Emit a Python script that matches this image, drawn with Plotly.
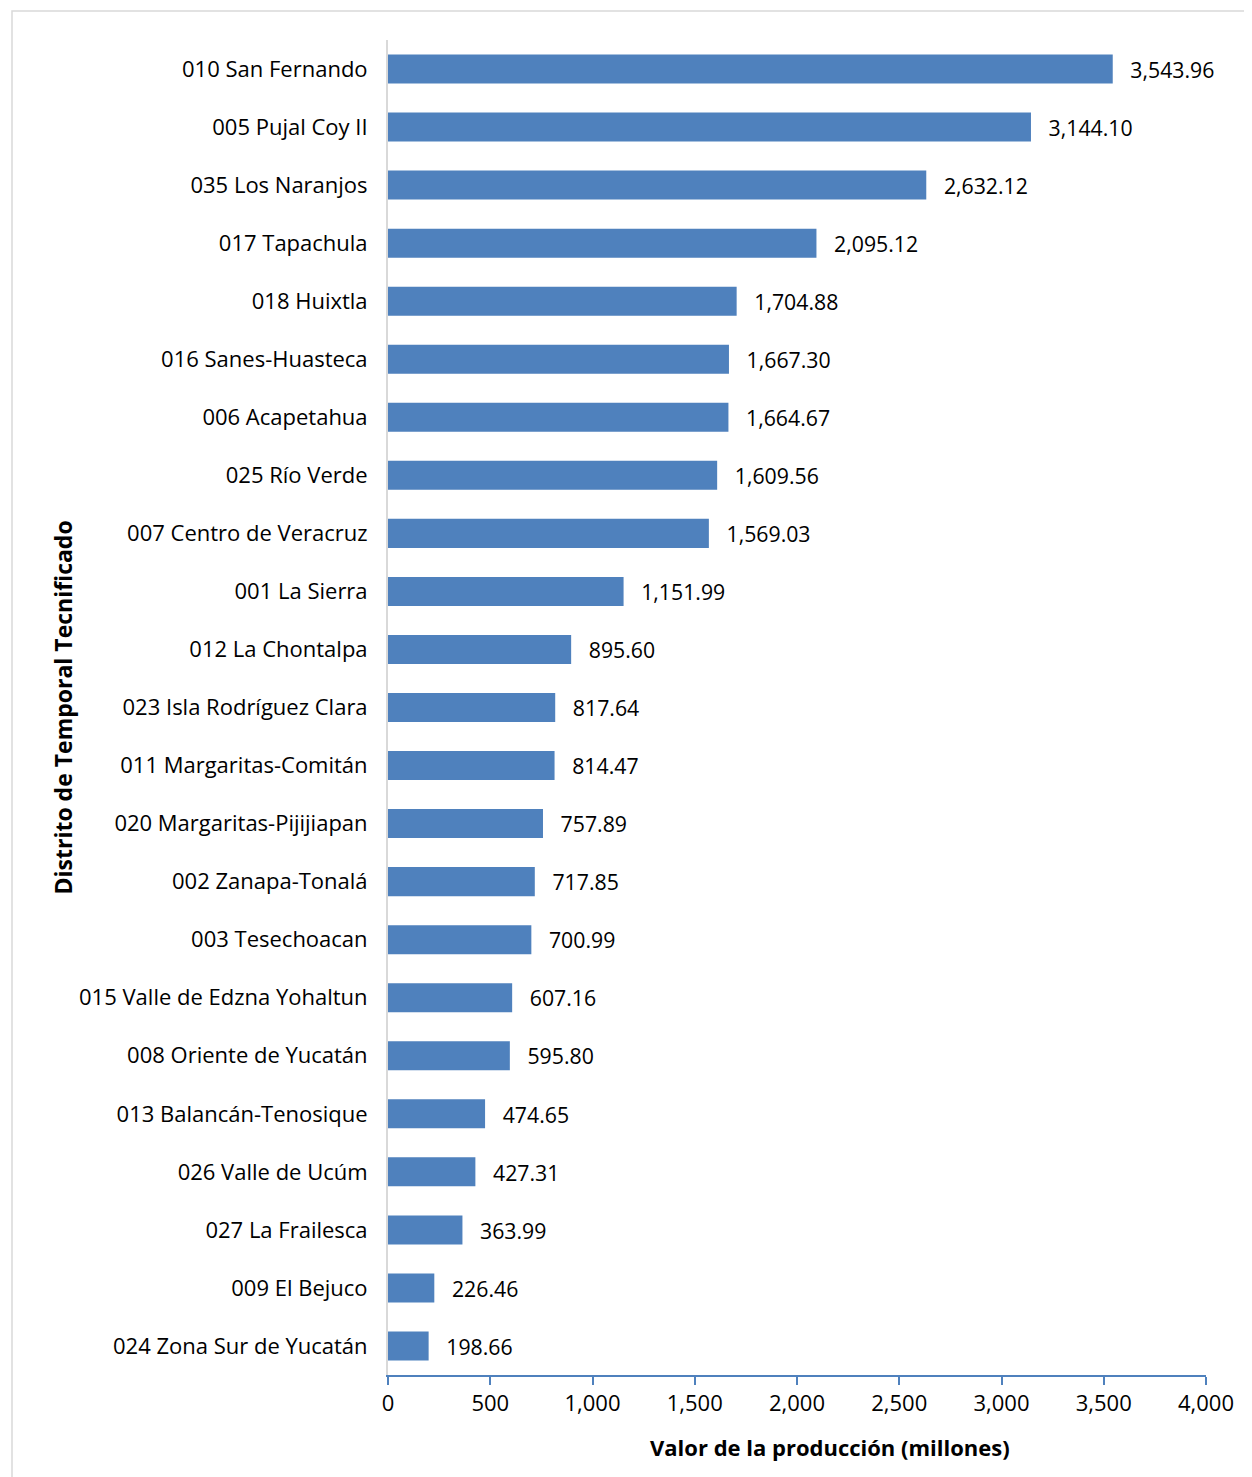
import plotly.graph_objects as go

categories = [
    "010 San Fernando", "005 Pujal Coy II", "035 Los Naranjos", "017 Tapachula",
    "018 Huixtla", "016 Sanes-Huasteca", "006 Acapetahua", "025 Río Verde",
    "007 Centro de Veracruz", "001 La Sierra", "012 La Chontalpa",
    "023 Isla Rodríguez Clara", "011 Margaritas-Comitán", "020 Margaritas-Pijijiapan",
    "002 Zanapa-Tonalá", "003 Tesechoacan", "015 Valle de Edzna Yohaltun",
    "008 Oriente de Yucatán", "013 Balancán-Tenosique", "026 Valle de Ucúm",
    "027 La Frailesca", "009 El Bejuco", "024 Zona Sur de Yucatán",
]
values = [
    3543.96, 3144.10, 2632.12, 2095.12, 1704.88, 1667.30, 1664.67, 1609.56,
    1569.03, 1151.99, 895.60, 817.64, 814.47, 757.89, 717.85, 700.99, 607.16,
    595.80, 474.65, 427.31, 363.99, 226.46, 198.66,
]
tick_vals = [0, 500, 1000, 1500, 2000, 2500, 3000, 3500, 4000]
tick_text = ["0", "500", "1,000", "1,500", "2,000", "2,500", "3,000", "3,500", "4,000"]
x_title = "Valor de la producción (millones)"
y_title = "Distrito de Temporal Tecnificado"

FONT = "'Open Sans', Lato, sans-serif"

fig = go.Figure(go.Bar(
    y=categories,
    x=values,
    orientation="h",
    marker=dict(color="#4F81BD", line=dict(width=0)),
    texttemplate="\u00a0\u00a0\u2009%{x:,.2f}",
    textposition="outside",
    textfont=dict(family=FONT, size=22, color="#000000"),
    cliponaxis=False,
    hoverinfo="skip",
))

# body has an 8px default margin in the page; figure coordinates are compensated
fig.update_layout(
    width=1244, height=1469,
    margin=dict(l=380, r=46, t=32, b=102),
    paper_bgcolor="white", plot_bgcolor="white",
    bargap=0.5,
    showlegend=False,
    font=dict(family=FONT, size=22, color="#000000"),
    xaxis=dict(
        range=[0, 4000],
        tickvals=tick_vals, ticktext=tick_text,
        showgrid=False, zeroline=False,
        showline=True, linecolor="#4F81BD", linewidth=2,
        ticks="outside", ticklen=8, tickcolor="#4F81BD", tickwidth=2,
        tickfont=dict(family=FONT, size=22, color="#000000"),
    ),
    yaxis=dict(
        autorange="reversed",
        showgrid=False, zeroline=False,
        showline=True, linecolor="#D9D9D9", linewidth=2,
        ticks="", ticklabelstandoff=14,
        tickfont=dict(family=FONT, size=22, color="#000000"),
    ),
    annotations=[
        dict(text="<b>" + x_title + "</b>", xref="paper", yref="paper",
             x=(830 - 388) / 818, y=-(1447 - 1375) / 1335,
             xanchor="center", yanchor="middle", showarrow=False,
             font=dict(family=FONT, size=22, color="#000000")),
        dict(text="<b>" + y_title + "</b>", xref="paper", yref="paper",
             x=(62 - 388) / 818, y=0.5, textangle=-90,
             xanchor="center", yanchor="middle", showarrow=False,
             font=dict(family=FONT, size=23, color="#000000")),
    ],
    shapes=[dict(
        type="rect", xref="paper", yref="paper",
        x0=(4 - 380) / 818, x1=(1260 - 380) / 818,
        y0=-0.2, y1=1 + 29 / 1335,
        line=dict(color="#D9D9D9", width=1.5), fillcolor="rgba(0,0,0,0)", layer="below",
    )],
)

fig.write_html("out.html")
